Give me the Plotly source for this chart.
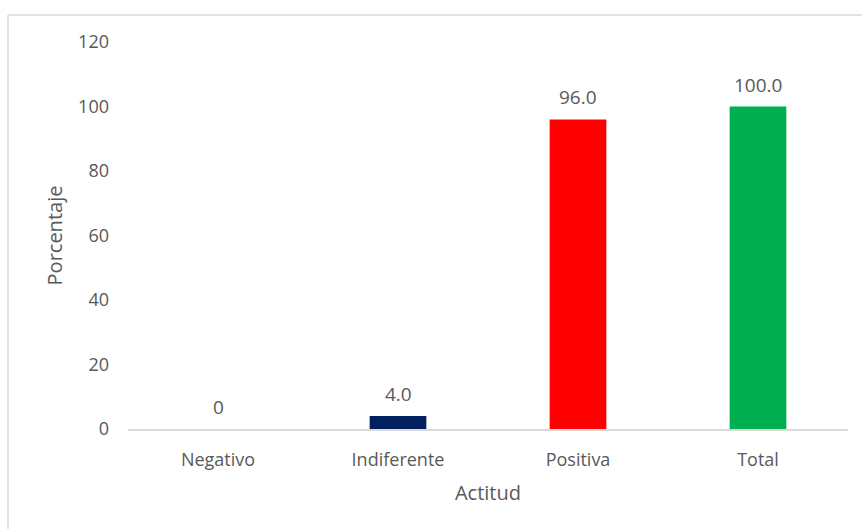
import plotly.graph_objects as go

# Attitude distribution (percent)
categorias = ["Negativo", "Indiferente", "Positiva", "Total"]
porcentajes = [0, 4.0, 96.0, 100.0]
colores = ["#4472C4", "#002060", "#FF0000", "#00B050"]
y_ticks = [0, 20, 40, 60, 80, 100, 120]


def etiqueta(v):
    return "0" if v == 0 else f"{v:.1f}"


FONT = "Open Sans"
GRIS = "#595959"

fig = go.Figure(
    go.Bar(
        x=categorias,
        y=porcentajes,
        marker=dict(color=colores, line=dict(width=0)),
        width=0.315,
        hoverinfo="x+y",
    )
)

# data labels sitting above each bar
for c, v in zip(categorias, porcentajes):
    fig.add_annotation(
        x=c, y=v, text=etiqueta(v), showarrow=False,
        yshift=22, font=dict(family=FONT, size=19, color=GRIS),
    )

# chart-area frame (left and top edges)
L, T = (8 - 128) / 720, (429 - 15) / 387
fig.add_shape(type="line", xref="paper", yref="paper", x0=L, x1=L, y0=T, y1=-0.4,
              line=dict(color="#D9D9D9", width=1.5))
fig.add_shape(type="line", xref="paper", yref="paper", x0=L, x1=1.2, y0=T, y1=T,
              line=dict(color="#D9D9D9", width=1.5))

fig.update_layout(
    width=862, height=529,
    margin=dict(l=128, r=14, t=42, b=100),
    plot_bgcolor="white", paper_bgcolor="white",
    showlegend=False,
    font=dict(family=FONT, color=GRIS),
    xaxis=dict(
        title=dict(text="Actitud", font=dict(size=20, color=GRIS), standoff=16),
        tickfont=dict(size=18, color=GRIS),
        showline=True, linecolor="#D9D9D9", linewidth=1.5,
        ticks="", showgrid=False,
        ticklabelstandoff=14,
    ),
    yaxis=dict(
        title=dict(text="Porcentaje", font=dict(size=20, color=GRIS), standoff=10),
        range=[0, 120], tickvals=y_ticks,
        tickfont=dict(size=18, color=GRIS),
        showgrid=False, zeroline=False, showline=False, ticks="",
        ticklabelstandoff=18,
    ),
)

fig.write_html("out.html")
